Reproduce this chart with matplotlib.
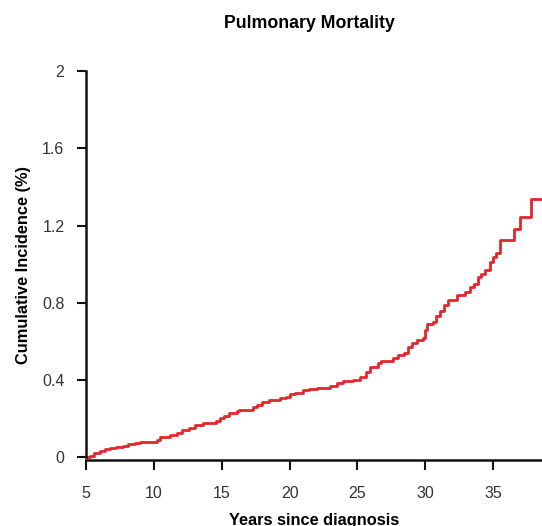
import matplotlib
matplotlib.use("Agg")
import matplotlib.pyplot as plt

plt.rcParams['font.family'] = ['Liberation Sans', 'DejaVu Sans']

years = [5.0, 5.3, 5.6, 6.0, 6.4, 6.8, 7.2, 7.7, 8.1, 8.6, 9.0, 9.6, 10.2, 10.45,
         11.2, 11.7, 12.1, 12.6, 13.0, 13.6, 14.6, 14.9, 15.2, 15.5, 16.1, 16.3,
         17.3, 17.6, 18.0, 18.5, 19.3, 19.7, 20.0, 20.4, 21.0, 21.4, 22.0, 23.0,
         23.5, 23.9, 24.7, 25.2, 25.6, 25.9, 26.5, 26.7, 27.6, 28.0, 28.4, 28.7,
         29.0, 29.4, 29.8, 30.0, 30.1, 30.6, 30.8, 31.1, 31.4, 31.7, 32.3, 32.9,
         33.3, 33.6, 33.9, 34.1, 34.4, 34.8, 35.0, 35.2, 35.5, 36.5, 37.0, 37.8, 38.6]
incidence = [0.0, 0.01, 0.022, 0.034, 0.042, 0.05, 0.055, 0.06, 0.07, 0.073, 0.078,
             0.082, 0.09, 0.105, 0.115, 0.125, 0.14, 0.155, 0.17, 0.18, 0.19, 0.205,
             0.215, 0.23, 0.24, 0.245, 0.26, 0.27, 0.285, 0.295, 0.31, 0.315, 0.33,
             0.335, 0.35, 0.355, 0.36, 0.37, 0.385, 0.395, 0.4, 0.415, 0.44, 0.47,
             0.49, 0.5, 0.515, 0.53, 0.54, 0.57, 0.59, 0.61, 0.62, 0.66, 0.69, 0.70,
             0.73, 0.76, 0.79, 0.815, 0.84, 0.855, 0.88, 0.90, 0.935, 0.95, 0.97,
             1.01, 1.04, 1.06, 1.125, 1.18, 1.245, 1.34, 1.34]

x_ticks = [5, 10, 15, 20, 25, 30, 35]
y_ticks = [0, 0.4, 0.8, 1.2, 1.6, 2]
y_labels = ['0', '0.4', '0.8', '1.2', '1.6', '2']

fig = plt.figure(figsize=(5.42, 5.26), dpi=100)
ax = fig.add_axes([86 / 542, 66 / 526, 1 - 86 / 542, 389 / 526])

ax.step(years, incidence, where='post', color='#e5262b', lw=2.0, clip_on=False)

ax.set_xlim(5, 38.6)
ax.set_ylim(-0.013, 2.0)
ax.set_xticks(x_ticks)
ax.set_yticks(y_ticks)
ax.set_yticklabels(y_labels)

for s in ['top', 'right']:
    ax.spines[s].set_visible(False)
for s in ['left', 'bottom']:
    ax.spines[s].set_linewidth(1.8)
    ax.spines[s].set_color('#111111')
ax.spines['left'].set_bounds(0, 2)

ax.tick_params(axis='y', direction='out', length=6.5, width=1.5, pad=9,
               labelsize=11.5, labelcolor='#333333', color='#111111')
ax.tick_params(axis='x', direction='out', length=7, width=1.5, pad=12,
               labelsize=11.5, labelcolor='#333333', color='#111111')

ax.set_xlabel('Years since diagnosis', fontsize=11.8, fontweight='bold', labelpad=8)
ax.set_ylabel('Cumulative Incidence (%)', fontsize=11.8, fontweight='bold', labelpad=8)
fig.text(309 / 542, 1 - 24 / 526, 'Pulmonary Mortality', fontsize=12.8,
         fontweight='bold', ha='center', va='center')

fig.savefig('out.png', dpi=100)
